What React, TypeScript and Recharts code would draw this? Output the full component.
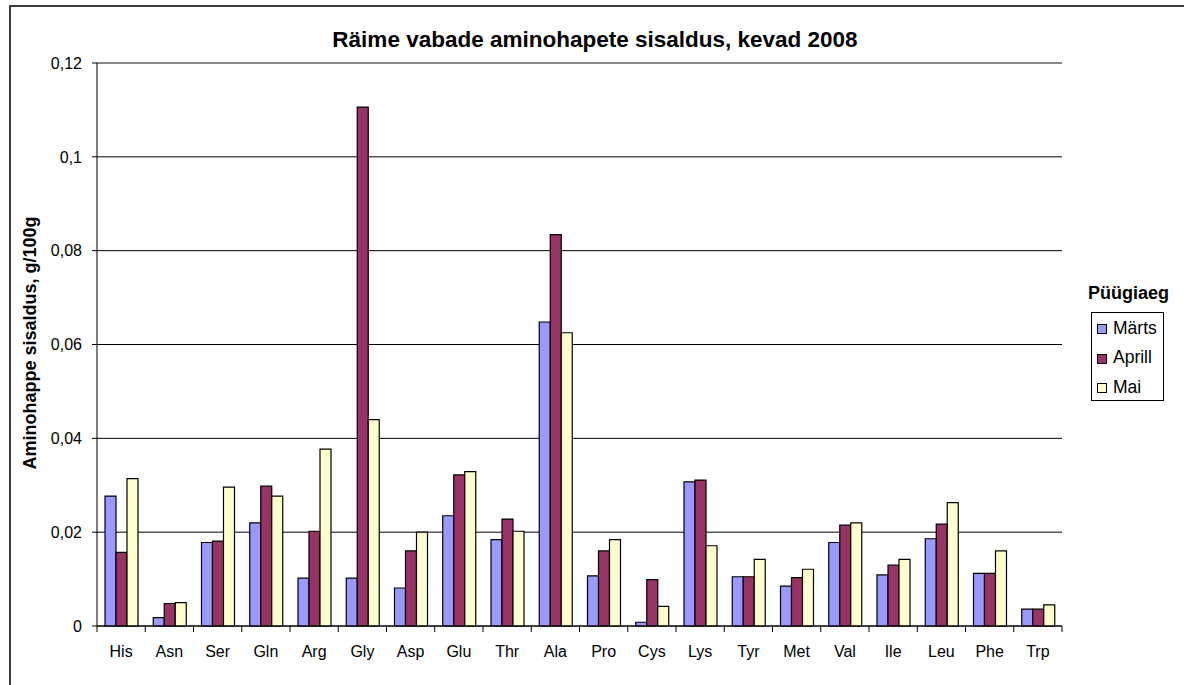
import React from "react";
import {
  BarChart,
  Bar,
  XAxis,
  YAxis,
  CartesianGrid,
  Legend,
  ReferenceLine,
} from "recharts";

const categories = [
  "His", "Asn", "Ser", "Gln", "Arg", "Gly", "Asp", "Glu", "Thr", "Ala",
  "Pro", "Cys", "Lys", "Tyr", "Met", "Val", "Ile", "Leu", "Phe", "Trp",
];

const marts = [
  0.0277, 0.0018, 0.0178, 0.022, 0.0102, 0.0102, 0.0081, 0.0235, 0.0184, 0.0648,
  0.0107, 0.0008, 0.0307, 0.0105, 0.0085, 0.0178, 0.0109, 0.0186, 0.0112, 0.0036,
];
const aprill = [
  0.0157, 0.0048, 0.0181, 0.0298, 0.0202, 0.1106, 0.016, 0.0322, 0.0228, 0.0834,
  0.016, 0.0099, 0.0311, 0.0105, 0.0103, 0.0215, 0.013, 0.0217, 0.0112, 0.0036,
];
const mai = [
  0.0314, 0.005, 0.0296, 0.0277, 0.0377, 0.044, 0.02, 0.0329, 0.0202, 0.0625,
  0.0184, 0.0042, 0.0171, 0.0142, 0.0121, 0.022, 0.0142, 0.0263, 0.016, 0.0045,
];

const yTicks = [0, 0.02, 0.04, 0.06, 0.08, 0.1, 0.12];

const series = [
  { key: "marts", name: "Märts", color: "#9999FF" },
  { key: "aprill", name: "Aprill", color: "#993366" },
  { key: "mai", name: "Mai", color: "#FFFFCC" },
];

const data = categories.map((name, i) => ({
  name,
  marts: marts[i],
  aprill: aprill[i],
  mai: mai[i],
}));

const FONT = '"Liberation Sans", Arial, sans-serif';

const fmt = (v: number) => (v === 0 ? "0" : String(v).replace(".", ","));

function XTick(props: any) {
  const { x, y, payload, index, visibleTicksCount } = props;
  const half = payload.offset || 0;
  return (
    <g>
      <line x1={x - half} y1={y} x2={x - half} y2={y + 6} stroke="#000" />
      {index === visibleTicksCount - 1 && (
        <line x1={x + half} y1={y} x2={x + half} y2={y + 6} stroke="#000" />
      )}
      <text x={x} y={y + 31} textAnchor="middle" fontSize={16} fill="#000" fontFamily={FONT}>
        {payload.value}
      </text>
    </g>
  );
}

function LegendBox() {
  return (
    <div style={{ fontFamily: FONT, color: "#000" }}>
      <div style={{ fontSize: 18, fontWeight: "bold", lineHeight: "18px", marginLeft: 3 }}>
        Püügiaeg
      </div>
      <div
        style={{
          marginTop: 10,
          marginLeft: 6,
          width: 71,
          height: 87,
          border: "1px solid #000",
          background: "#fff",
        }}
      >
        {series.map((s) => (
          <div
            key={s.key}
            style={{ height: 29.5, display: "flex", alignItems: "center", paddingLeft: 5 }}
          >
            <span
              style={{
                display: "inline-block",
                width: 8,
                height: 8,
                border: "1px solid #000",
                background: s.color,
                marginRight: 6,
                marginTop: 3,
              }}
            />
            <span style={{ fontSize: 17.5, lineHeight: "18px" }}>{s.name}</span>
          </div>
        ))}
      </div>
    </div>
  );
}

export default function App() {
  return (
    <div
      style={{
        position: "fixed",
        left: 0,
        top: 0,
        width: 1184,
        height: 685,
        overflow: "hidden",
        background: "#fff",
        fontFamily: FONT,
      }}
    >
      <div
        style={{
          position: "absolute",
          left: 9,
          top: 5,
          width: 1300,
          height: 800,
          borderLeft: "2px solid #3c3c3c",
          borderTop: "2px solid #3c3c3c",
        }}
      />
      <div
        style={{
          position: "absolute",
          left: 0,
          top: 29,
          width: 1190,
          textAlign: "center",
          fontSize: 22.5,
          lineHeight: "22px",
          fontWeight: "bold",
          color: "#000",
        }}
      >
        Räime vabade aminohapete sisaldus, kevad 2008
      </div>
      <div
        style={{
          position: "absolute",
          left: 30,
          top: 343,
          transform: "translate(-50%, -50%) rotate(-90deg)",
          whiteSpace: "nowrap",
          fontSize: 18,
          fontWeight: "bold",
          color: "#000",
        }}
      >
        Aminohappe sisaldus, g/100g
      </div>
      <div style={{ position: "absolute", left: 0, top: 0 }}>
        <BarChart
          width={1184}
          height={685}
          data={data}
          margin={{ top: 63, right: 122, bottom: 29, left: 20 }}
          barSize={11}
          barGap={0}
        >
          <CartesianGrid
            yAxisId="l"
            horizontal
            vertical={false}
            stroke="#000"
            strokeWidth={1}
          />
          <XAxis
            dataKey="name"
            height={30}
            interval={0}
            tickSize={0}
            tickMargin={0}
            tickLine={false}
            axisLine={{ stroke: "#000" }}
            tick={<XTick />}
          />
          <YAxis
            yAxisId="l"
            width={77}
            domain={[0, 0.12]}
            ticks={yTicks}
            tickFormatter={fmt}
            tickSize={5}
            tickMargin={10}
            axisLine={{ stroke: "#000" }}
            tickLine={{ stroke: "#000" }}
            tick={{ fontSize: 16, fill: "#000", fontFamily: FONT }}
          />
          <YAxis
            yAxisId="r"
            orientation="right"
            width={0}
            domain={[0, 0.12]}
            tick={false}
            tickLine={false}
            axisLine={{ stroke: "#8c8c8c", strokeWidth: 1.5 }}
          />
          <ReferenceLine yAxisId="l" y={0.12} stroke="#8c8c8c" strokeWidth={1.5} />
          <Legend
            layout="horizontal"
            verticalAlign="middle"
            align="center"
            content={<LegendBox />}
            wrapperStyle={{ left: 1085, top: 284, width: 99, height: 120 }}
          />
          {series.map((s) => (
            <Bar
              key={s.key}
              yAxisId="l"
              dataKey={s.key}
              name={s.name}
              fill={s.color}
              stroke="#000"
              strokeWidth={1.2}
              isAnimationActive={false}
            />
          ))}
        </BarChart>
      </div>
    </div>
  );
}
